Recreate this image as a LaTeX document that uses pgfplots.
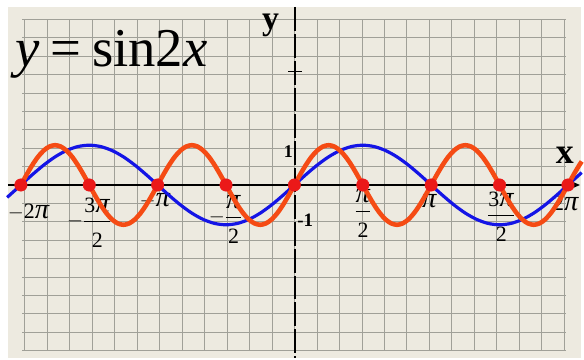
\documentclass[border=0pt]{standalone}
\usepackage{pgfplots}
\pgfplotsset{compat=1.18}
\usepackage{graphicx}
\usepackage{fontspec}
\setmainfont{Liberation Serif}
\usetikzlibrary{arrows.meta}

\definecolor{paper}{RGB}{237,234,224}
\definecolor{gridc}{RGB}{160,160,152}
\definecolor{sinblue}{RGB}{20,20,230}
\definecolor{sinorange}{RGB}{245,75,20}
\definecolor{dotred}{RGB}{235,25,25}

% a larger italic pi for the tick labels
\newcommand{\p}{\scalebox{1.3}{\textit{π}}}
% fraction label with a roomy denominator
\newcommand{\fr}[2]{\displaystyle\frac{\mbox{#1}}{\mbox{\rule{0pt}{25pt}#2}}}
\tikzset{tlab/.style={font=\fontsize{22}{26}\selectfont, inner sep=0}}

\begin{document}
\begin{tikzpicture}
\begin{axis}[
  width=576pt, height=353pt, scale only axis,
  xmin=-6.58, xmax=6.58, ymin=-4.35, ymax=4.475,
  hide axis, clip=false,
]
% page and squared paper
\fill[white] (axis cs:-6.763,-4.35) rectangle (axis cs:6.58,4.65);
\fill[paper] (axis cs:-6.58,-4.35) rectangle (axis cs:6.58,4.475);
\pgfplotsinvokeforeach{-12,...,12}{
  \draw[gridc, line width=0.65pt] (axis cs:#1*0.5163,4.17) -- (axis cs:#1*0.5163,-4.17);
}
\pgfplotsinvokeforeach{-9,...,9}{
  \draw[gridc, line width=0.65pt] (axis cs:-6.25,#1*0.4625) -- (axis cs:6.25,#1*0.4625);
}

% coordinate axes
\draw[line width=1.8pt, -{Stealth[length=7pt,width=6pt]}] (axis cs:-6.58,0) -- (axis cs:6.56,0);

% title and axis names
\node[anchor=base west, inner sep=0, font=\fontsize{55}{60}\selectfont]
  at (axis cs:-6.42,2.975) {\textit{y}\hspace{0.2em}=\hspace{0.2em}sin2\textit{x}};
\node[font=\fontsize{34}{40}\selectfont\bfseries] at (axis cs:-0.548,4.0) {y};
\node[font=\fontsize{36}{40}\selectfont\bfseries] at (axis cs:6.21,0.75) {x};
\node[font=\fontsize{18}{20}\selectfont\bfseries] at (axis cs:-0.137,0.85) {1};
\node[font=\fontsize{19}{20}\selectfont\bfseries] at (axis cs:0.25,-0.875) {-1};

% tick labels along x
\node[tlab] at (axis cs:-6.10,-0.675) {$-\mbox{2\p}$};
\node[tlab, anchor=base] at (axis cs:-4.7124,-1.04) {$-\fr{3\p}{2}$};
\node[tlab] at (axis cs:-3.2,-0.4) {$-\mbox{\p}$};
\node[tlab, anchor=base] at (axis cs:-1.58,-0.94) {$-\fr{\p}{2}$};
\node[tlab, anchor=base] at (axis cs:1.576,-0.79) {$\fr{\p}{2}$};
\node[tlab] at (axis cs:3.107,-0.4) {\p};
\node[tlab, anchor=base] at (axis cs:4.752,-0.89) {$\fr{3\p}{2}$};
\node[tlab] at (axis cs:6.24,-0.45) {2\p};

% y = sin x
\addplot[sinblue, line width=3.2pt, smooth] table {
x y
-6.60 -0.3115
-6.5450 -0.2588
-6.2832 0
-6.0214 0.2588
-5.7596 0.5
-5.4978 0.7071
-5.2360 0.8660
-4.9742 0.9659
-4.7124 1
-4.4506 0.9659
-4.1888 0.8660
-3.9270 0.7071
-3.6652 0.5
-3.4034 0.2588
-3.1416 0
-2.8798 -0.2588
-2.6180 -0.5
-2.3562 -0.7071
-2.0944 -0.8660
-1.8326 -0.9659
-1.5708 -1
-1.3090 -0.9659
-1.0472 -0.8660
-0.7854 -0.7071
-0.5236 -0.5
-0.2618 -0.2588
0 0
0.2618 0.2588
0.5236 0.5
0.7854 0.7071
1.0472 0.8660
1.3090 0.9659
1.5708 1
1.8326 0.9659
2.0944 0.8660
2.3562 0.7071
2.6180 0.5
2.8798 0.2588
3.1416 0
3.4034 -0.2588
3.6652 -0.5
3.9270 -0.7071
4.1888 -0.8660
4.4506 -0.9659
4.7124 -1
4.9742 -0.9659
5.2360 -0.8660
5.4978 -0.7071
5.7596 -0.5
6.0214 -0.2588
6.2832 0
6.5450 0.2588
6.60 0.3115
};

% y = sin 2x
\addplot[sinorange, line width=4.6pt, smooth] table {
x y
-6.2832 0
-6.1523 0.2588
-6.0214 0.5
-5.8905 0.7071
-5.7596 0.8660
-5.6287 0.9659
-5.4978 1
-5.3669 0.9659
-5.2360 0.8660
-5.1051 0.7071
-4.9742 0.5
-4.8433 0.2588
-4.7124 0
-4.5815 -0.2588
-4.4506 -0.5
-4.3197 -0.7071
-4.1888 -0.8660
-4.0579 -0.9659
-3.9270 -1
-3.7961 -0.9659
-3.6652 -0.8660
-3.5343 -0.7071
-3.4034 -0.5
-3.2725 -0.2588
-3.1416 0
-3.0107 0.2588
-2.8798 0.5
-2.7489 0.7071
-2.6180 0.8660
-2.4871 0.9659
-2.3562 1
-2.2253 0.9659
-2.0944 0.8660
-1.9635 0.7071
-1.8326 0.5
-1.7017 0.2588
-1.5708 0
-1.4399 -0.2588
-1.3090 -0.5
-1.1781 -0.7071
-1.0472 -0.8660
-0.9163 -0.9659
-0.7854 -1
-0.6545 -0.9659
-0.5236 -0.8660
-0.3927 -0.7071
-0.2618 -0.5
-0.1309 -0.2588
0 0
0.1309 0.2588
0.2618 0.5
0.3927 0.7071
0.5236 0.8660
0.6545 0.9659
0.7854 1
0.9163 0.9659
1.0472 0.8660
1.1781 0.7071
1.3090 0.5
1.4399 0.2588
1.5708 0
1.7017 -0.2588
1.8326 -0.5
1.9635 -0.7071
2.0944 -0.8660
2.2253 -0.9659
2.3562 -1
2.4871 -0.9659
2.6180 -0.8660
2.7489 -0.7071
2.8798 -0.5
3.0107 -0.2588
3.1416 0
3.2725 0.2588
3.4034 0.5
3.5343 0.7071
3.6652 0.8660
3.7961 0.9659
3.9270 1
4.0579 0.9659
4.1888 0.8660
4.3197 0.7071
4.4506 0.5
4.5815 0.2588
4.7124 0
4.8433 -0.2588
4.9742 -0.5
5.1051 -0.7071
5.2360 -0.8660
5.3669 -0.9659
5.4978 -1
5.6287 -0.9659
5.7596 -0.8660
5.8905 -0.7071
6.0214 -0.5
6.1523 -0.2588
6.2832 0
6.4141 0.2588
6.5450 0.5
6.60 0.5921
};

% zeros of sin 2x at multiples of pi/2
\addplot[only marks, mark=*, mark size=6.3pt, color=dotred] coordinates {
(-6.2832,0) (-4.7124,0) (-3.1416,0) (-1.5708,0) (0,0)
(1.5708,0) (3.1416,0) (4.7124,0) (6.2832,0)
};

% dashed y axis with a tick
\draw[line width=2.2pt, dash pattern=on 24pt off 3pt] (axis cs:0.02,4.475) -- (axis cs:0.02,-4.35);
\draw[line width=1pt] (axis cs:-0.14,2.85) -- (axis cs:0.18,2.85);
\end{axis}
\end{tikzpicture}
\end{document}
